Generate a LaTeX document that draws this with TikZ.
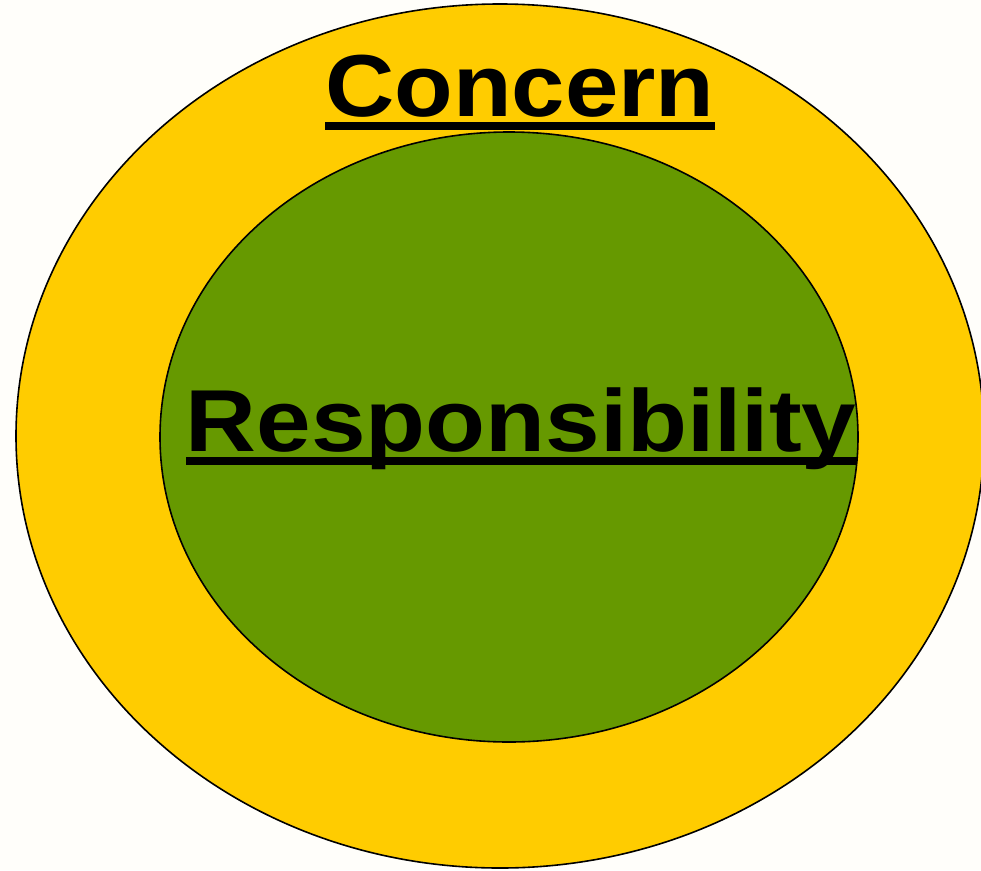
\documentclass[tikz,border=0pt]{standalone}
\usepackage{fontspec}
\setmainfont{Liberation Sans}
\usetikzlibrary{shapes.geometric}
\definecolor{bgcream}{HTML}{FFFEFA}
\definecolor{ringyellow}{HTML}{FFCC00}
\definecolor{coregreen}{HTML}{669900}
\tikzset{
  ringshape/.style={ellipse, draw=black, line width=1.6pt, inner sep=0pt},
  bigword/.style={inner sep=0pt, anchor=base, font=\fontsize{88}{100}\selectfont\bfseries},
}
\begin{document}
\begin{tikzpicture}[x=1pt,y=-1pt]
\fill[bgcream] (0,0) rectangle (981,870);
\useasboundingbox (0,0) rectangle (981,870);
\node[ringshape, fill=ringyellow, minimum width=968pt, minimum height=864pt] (outer) at (500,436) {};
\node[ringshape, fill=coregreen, minimum width=698pt, minimum height=610pt] (inner) at (509,437) {};
\node[bigword] (concern) at (520,116) {\scalebox{1.09}[1]{Concern}};
\fill ([yshift=-6pt]concern.base west) rectangle ([yshift=-14pt]concern.base east);
\node[bigword] (resp) at (521,451) {\scalebox{1.115}[1]{Responsibility}};
\fill ([yshift=-6pt]resp.base west) rectangle ([yshift=-14pt]resp.base east);
\end{tikzpicture}
\end{document}
